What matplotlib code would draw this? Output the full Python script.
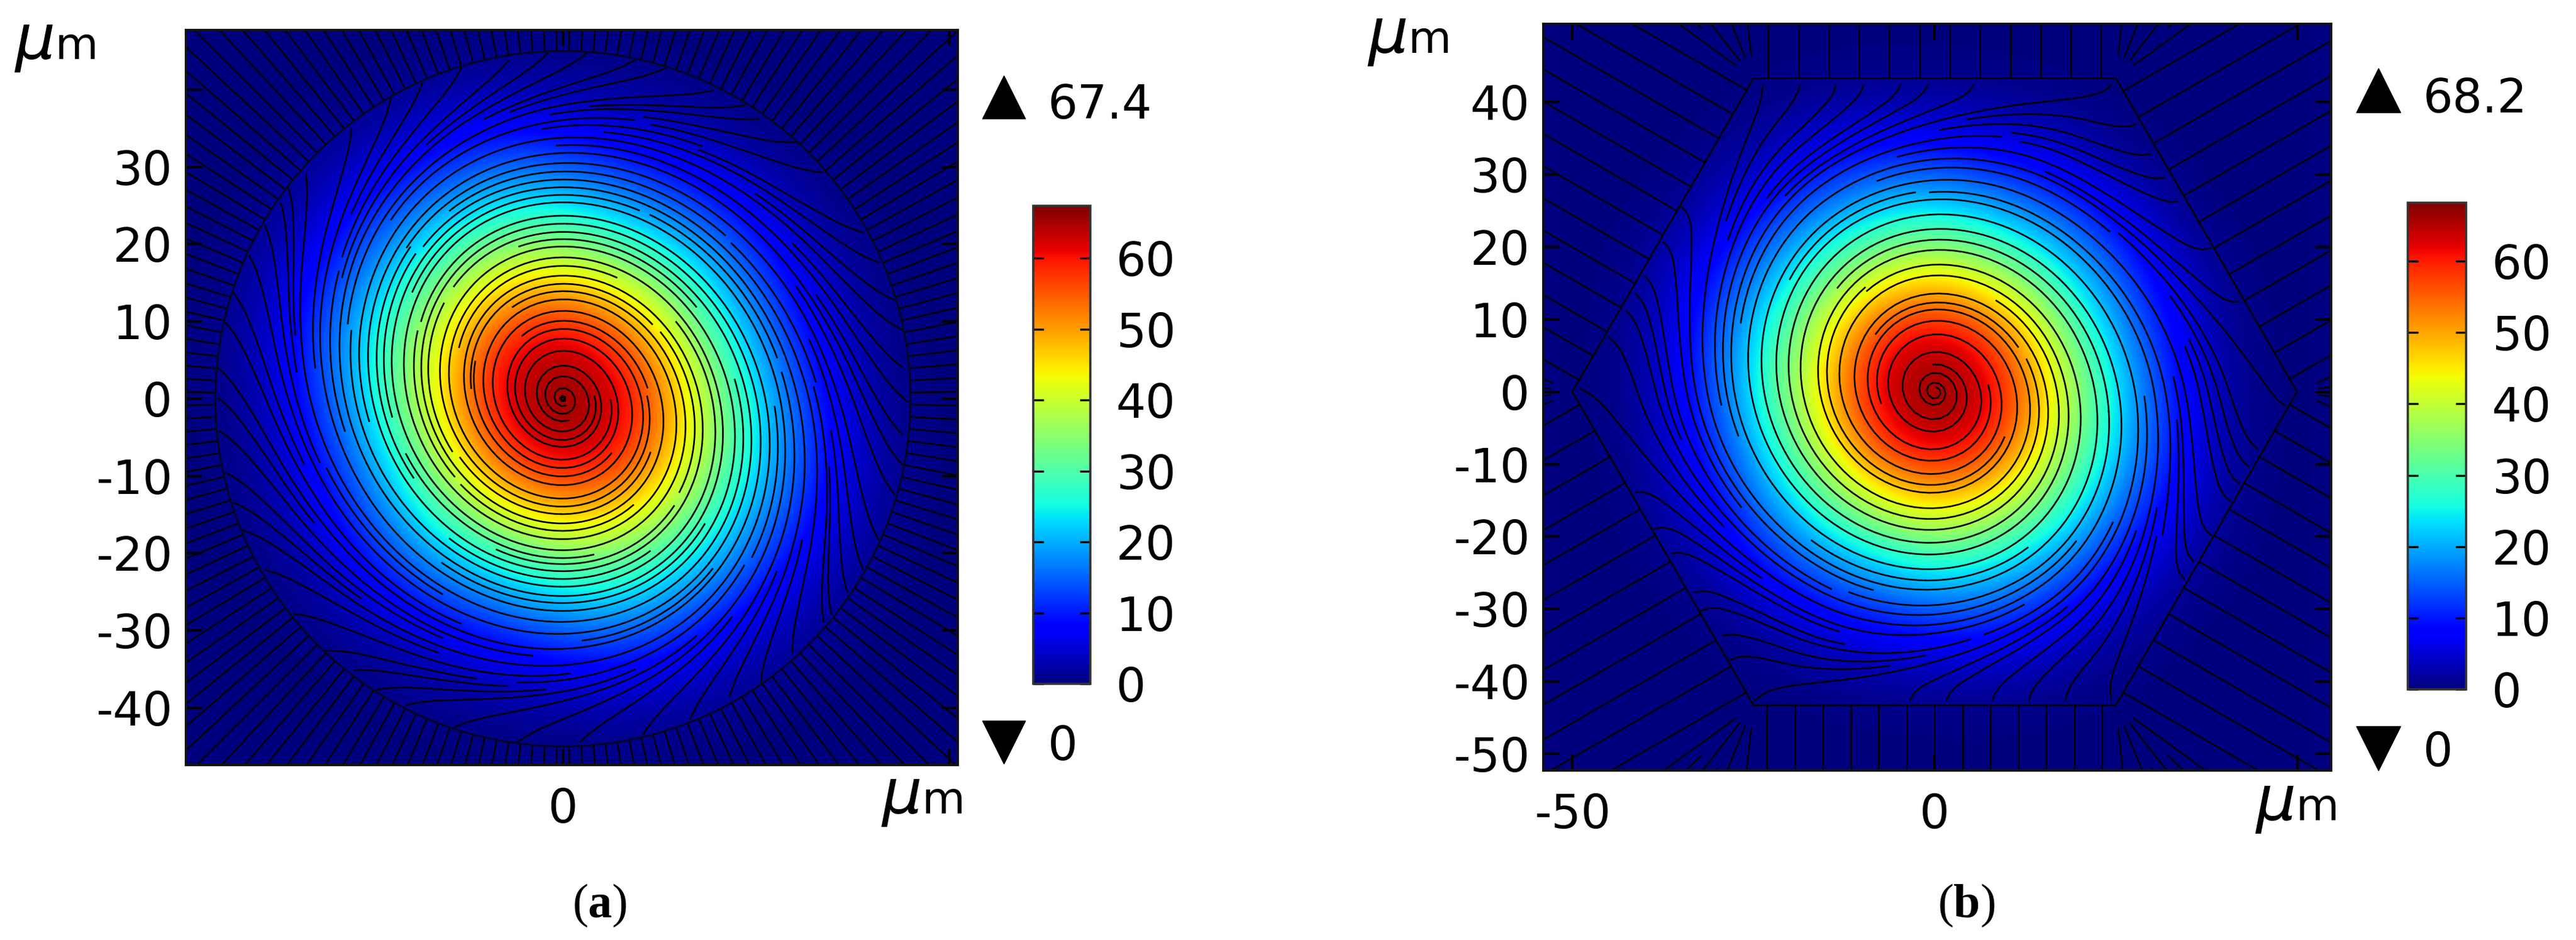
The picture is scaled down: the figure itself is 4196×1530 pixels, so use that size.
"""Two-panel temperature maps with heat-flux streamlines (circle and hexagon domains)."""

import matplotlib
matplotlib.use("Agg")
import matplotlib.pyplot as plt
import numpy as np
from matplotlib.cm import ScalarMappable
from matplotlib.collections import LineCollection
from matplotlib.colors import Normalize

plt.rcParams["axes.unicode_minus"] = False
plt.rcParams["mathtext.fontset"] = "custom"
plt.rcParams["mathtext.bf"] = "Liberation Serif:bold"
plt.rcParams["mathtext.rm"] = "Liberation Serif"

W, H = 4196, 1530

# temperature every 8 um, top row is y = +48, left column x = -48
GRID_STEP = 8
temp_a = [
    [0, 0, 0, 0, 0, .1, 0, 0, 0, 0, 0, 0, 0],
    [0, 0, .1, .3, 1.2, 2, 1.5, 1, .4, .1, 0, 0, 0],
    [0, .1, .7, 3, 8.5, 12, 11, 8, 5, 1.2, .2, 0, 0],
    [0, .3, 3, 12, 19.5, 26, 26, 20.5, 14.5, 8, 1.2, .1, 0],
    [0, 1.2, 8.5, 19.5, 32.5, 42.5, 45, 38, 27, 14.5, 5, .4, 0],
    [.1, 2, 12, 26, 42.5, 59.5, 64.5, 56.5, 38, 20.5, 8, 1, 0],
    [0, 1.5, 11, 26, 45, 64.5, 67.4, 64.5, 45, 26, 11, 1.5, 0],
    [0, 1, 8, 20.5, 38, 56.5, 64.5, 59.5, 42.5, 26, 12, 2, .1],
    [0, .4, 5, 14.5, 27, 38, 45, 42.5, 32.5, 19.5, 8.5, 1.2, 0],
    [0, .1, 1.2, 8, 14.5, 20.5, 26, 26, 19.5, 12, 3, .3, 0],
    [0, 0, .2, 1.2, 5, 8, 11, 12, 8.5, 3, .7, .1, 0],
    [0, 0, 0, .1, .4, 1, 1.5, 2, 1.2, .3, .1, 0, 0],
    [0, 0, 0, 0, 0, 0, 0, .1, 0, 0, 0, 0, 0],
]
temp_b = [
    [0, 0, 0, 0, 0, 0, 0, 0, 0, 0, 0, 0, 0],
    [0, 0, 0, .3, 1, 1.6, 1.5, 1.1, .5, .1, 0, 0, 0],
    [0, 0, .5, 2.5, 7.5, 11, 11, 9, 6, 1.4, .2, 0, 0],
    [0, .3, 2.5, 10, 18, 24.5, 26.5, 22, 16, 9, 1.4, .1, 0],
    [0, 1, 7.5, 18, 31, 41, 45.5, 39.5, 28, 16, 6, .5, 0],
    [0, 1.6, 11, 24.5, 41, 59.5, 65, 58, 39.5, 22, 9, 1.1, 0],
    [0, 1.5, 11, 26.5, 45.5, 65, 68.2, 65, 45.5, 26.5, 11, 1.5, 0],
    [0, 1.1, 9, 22, 39.5, 58, 65, 59.5, 41, 24.5, 11, 1.6, 0],
    [0, .5, 6, 16, 28, 39.5, 45.5, 41, 31, 18, 7.5, 1, 0],
    [0, .1, 1.4, 9, 16, 22, 26.5, 24.5, 18, 10, 2.5, .3, 0],
    [0, 0, .2, 1.4, 6, 9, 11, 11, 7.5, 2.5, .5, 0, 0],
    [0, 0, 0, .1, .5, 1.1, 1.5, 1.6, 1, .3, 0, 0, 0],
    [0, 0, 0, 0, 0, 0, 0, 0, 0, 0, 0, 0, 0],
]

# angle between flow line and ring (deg), read against distance from the domain boundary (um)
swirl_dist = [0, 3, 7, 11, 17, 25, 45]
swirl_angle = [50, 30, 16, 9, 6, 6, 7]

circle_radius = 45.0
hex_radius = 50.0

max_a, max_b = 67.4, 68.2
cbar_ticks = [0, 10, 20, 30, 40, 50, 60]
yticks_a = [-40, -30, -20, -10, 0, 10, 20, 30, 40]
ylabels_a = ["-40", "-30", "-20", "-10", "0", "10", "20", "30", ""]
xticks_a = [0, 50]
xlabels_a = ["0", ""]
yticks_b = [-50, -40, -30, -20, -10, 0, 10, 20, 30, 40]
ylabels_b = ["-50", "-40", "-30", "-20", "-10", "0", "10", "20", "30", "40"]
xticks_b = [-50, 0, 50]
xlabels_b = ["-50", "0", ""]


def px_axes(fig, left, top, right, bottom):
    return fig.add_axes([left / W, 1 - bottom / H, (right - left) / W, (bottom - top) / H])


def hex_vertices():
    ang = np.deg2rad(np.arange(0, 420, 60))
    return hex_radius * np.cos(ang), hex_radius * np.sin(ang)


def nearest_on_circle(x, y):
    r = np.hypot(x, y) + 1e-9
    return circle_radius * x / r, circle_radius * y / r


def nearest_on_hexagon(x, y):
    vx, vy = hex_vertices()
    best = None
    for i in range(6):
        ex, ey = vx[i + 1] - vx[i], vy[i + 1] - vy[i]
        t = np.clip(((x - vx[i]) * ex + (y - vy[i]) * ey) / (ex * ex + ey * ey), 0, 1)
        qx, qy = vx[i] + t * ex, vy[i] + t * ey
        d = np.hypot(x - qx, y - qy)
        if best is None:
            best = [d, qx, qy]
        else:
            mask = d < best[0]
            best[0] = np.where(mask, d, best[0])
            best[1] = np.where(mask, qx, best[1])
            best[2] = np.where(mask, qy, best[2])
    return best[1], best[2]


def in_circle(x, y):
    return np.hypot(x, y) < circle_radius


def in_hexagon(x, y):
    apothem = hex_radius * np.sqrt(3) / 2
    ok = np.abs(y) < apothem
    for deg in (30, 150):
        ok = ok & (np.abs(x * np.cos(np.deg2rad(deg)) + y * np.sin(np.deg2rad(deg))) < apothem)
    return ok


def boundary_normal(x, y, nearest, inside):
    qx, qy = nearest(x, y)
    dist = np.hypot(x - qx, y - qy) + 1e-9
    sign = np.where(inside, 1.0, -1.0)
    return sign * (qx - x) / dist, sign * (qy - y) / dist, dist


def swirl_field(x, y, nearest, inside, stretch, bend):
    # elliptical rings with the long axis pointing to upper left
    phi = np.deg2rad(118)
    xr = x * np.cos(phi) + y * np.sin(phi)
    yr = -x * np.sin(phi) + y * np.cos(phi)
    gx_r, gy_r = xr / stretch ** 2, yr * stretch ** 2
    gx = gx_r * np.cos(phi) - gy_r * np.sin(phi)
    gy = gx_r * np.sin(phi) + gy_r * np.cos(phi)
    g = np.hypot(gx, gy) + 1e-9
    gx, gy = gx / g, gy / g

    nx, ny, dist = boundary_normal(x, y, nearest, inside)
    alpha = np.deg2rad(np.interp(dist, swirl_dist, swirl_angle))

    # clockwise ring direction plus outward drift
    u = np.cos(alpha) * gy + np.sin(alpha) * gx
    v = -np.cos(alpha) * gx + np.sin(alpha) * gy

    # last few um turn onto the boundary normal
    if bend > 0:
        b = np.clip(1 - dist / bend, 0, 1) ** 2
        u = (1 - b) * u + b * nx
        v = (1 - b) * v + b * ny
    s = np.hypot(u, v) + 1e-9
    u, v = u / s, v / s
    return np.where(inside, u, np.nan), np.where(inside, v, np.nan)


def boundary_seeds(vx, vy, spacing, offset=0.1):
    # points along the closed outline, pushed just outside
    seeds = []
    for i in range(len(vx) - 1):
        ex, ey = vx[i + 1] - vx[i], vy[i + 1] - vy[i]
        length = np.hypot(ex, ey)
        count = max(int(round(length / spacing)), 1)
        for k in range(count):
            t = (k + 0.5) / count
            px, py = vx[i] + t * ex, vy[i] + t * ey
            scale = 1 + offset / np.hypot(px, py)
            seeds.append((px * scale, py * scale))
    return np.array(seeds)


def vertex_fan_seeds(vx, vy):
    # short fans of lines opening from each hexagon corner
    seeds = []
    for i in range(6):
        base = np.rad2deg(np.arctan2(vy[i], vx[i]))
        for k, da in enumerate(np.arange(-24, 25, 8)):
            d = 3 + 7 * (k % 2)
            a = np.deg2rad(base + da)
            seeds.append((vx[i] + d * np.cos(a), vy[i] + d * np.sin(a)))
    return np.array(seeds)


def outer_rays(ax, seeds, nearest):
    # straight lines leaving the domain, normal to its outline
    qx, qy = nearest(seeds[:, 0], seeds[:, 1])
    dx, dy = seeds[:, 0] - qx, seeds[:, 1] - qy
    d = np.hypot(dx, dy) + 1e-9
    ends = seeds + 150 * np.column_stack([dx / d, dy / d])
    segs = np.stack([seeds, ends], axis=1)
    ax.add_collection(LineCollection(segs, colors="black", linewidths=1.9))


def draw_panel(ax, temp, vmax, xlim, ylim, nearest, inside_fn, stretch, density, bend, seeds):
    half = GRID_STEP * (len(temp) / 2)
    ax.set_facecolor(plt.cm.jet(0.0))
    ax.imshow(np.array(temp), cmap="jet", vmin=0, vmax=vmax, interpolation="bicubic",
              interpolation_stage="data", extent=(-half, half, -half, half), aspect="auto")
    xs = np.linspace(xlim[0], xlim[1], 600)
    ys = np.linspace(ylim[0], ylim[1], 600)
    X, Y = np.meshgrid(xs, ys)
    inside = inside_fn(X, Y)
    U, V = swirl_field(X, Y, nearest, inside, stretch, bend)
    ax.streamplot(xs, ys, U, V, density=density, color="black", linewidth=1.9,
                  arrowstyle="-", minlength=0.2, maxlength=30.0, integration_direction="both")
    outer_rays(ax, seeds, nearest)

    ax.set_xlim(xlim)
    ax.set_ylim(ylim)
    ax.tick_params(direction="in", length=19, width=3.0, top=True, right=True, labelsize=55, pad=16,
                   color="black")
    for s in ax.spines.values():
        s.set_linewidth(3.0)
        s.set_color("#111111")


def draw_cbar(fig, box, vmax):
    cax = px_axes(fig, *box)
    cb = fig.colorbar(ScalarMappable(Normalize(0, vmax), "jet"), cax=cax)
    cb.set_ticks(cbar_ticks)
    cax.tick_params(direction="in", length=12, width=2.4, left=True, right=True, labelsize=55, pad=30)
    cb.outline.set_linewidth(2.6)
    cb.outline.set_edgecolor("#333333")


def um_label(over, x_mu, x_m, base):
    over.text(x_mu, base, "\u03bc", fontsize=74, style="italic", family="DejaVu Sans", va="baseline", ha="left")
    over.text(x_m, base, "m", fontsize=52, family="DejaVu Sans", va="baseline", ha="left")


fig = plt.figure(figsize=(W / 100, H / 100), dpi=100, facecolor="white")

ring_ang = np.deg2rad(np.linspace(0, 360, 181))
ring_x, ring_y = circle_radius * np.cos(ring_ang), circle_radius * np.sin(ring_ang)
hex_x, hex_y = hex_vertices()

ax_a = px_axes(fig, 303, 49, 1560, 1245)
draw_panel(ax_a, temp_a, max_a, (-48.8, 51.1), (-47.4, 47.7), nearest_on_circle, in_circle,
           1.06, 3.3, 0, boundary_seeds(ring_x, ring_y, 2.2))
ax_a.plot(ring_x, ring_y, color="#05051a", lw=2.0)
ax_a.set_xticks(xticks_a, xlabels_a)
ax_a.set_yticks(yticks_a, ylabels_a)
ax_a.tick_params(axis="x", pad=26)

ax_b = px_axes(fig, 2514, 39, 3797, 1254)
hex_seeds = np.vstack([boundary_seeds(hex_x, hex_y, 4.0), vertex_fan_seeds(hex_x, hex_y)])
draw_panel(ax_b, temp_b, max_b, (-54.0, 54.7), (-52.3, 50.8), nearest_on_hexagon, in_hexagon,
           1.04, 2.9, 4.0, hex_seeds)
ax_b.plot(hex_x, hex_y, color="black", lw=2.0)
ax_b.set_xticks(xticks_b, xlabels_b)
ax_b.set_yticks(yticks_b, ylabels_b)
ax_b.tick_params(axis="x", pad=26)

draw_cbar(fig, (1683, 335, 1776, 1113), max_a)
draw_cbar(fig, (3922, 330, 4017, 1122), max_b)

# everything placed by pixel: unit labels, max/min markers, captions
over = fig.add_axes([0, 0, 1, 1], facecolor="none")
over.set_xlim(0, W)
over.set_ylim(H, 0)
over.axis("off")

um_label(over, 24, 90, 96)
um_label(over, 1436, 1502, 1324)
um_label(over, 2228, 2294, 86)
um_label(over, 3674, 3740, 1335)

over.plot([1635], [158], marker="^", ms=50, color="black", ls="none")
over.plot([1635], [1208], marker="v", ms=50, color="black", ls="none")
over.plot([3874], [147], marker="^", ms=52, color="black", ls="none")
over.plot([3874], [1218], marker="v", ms=52, color="black", ls="none")
for x, y, s in [(1707, 164, "67.4"), (1707, 1208, "0"), (3947, 154, "68.2"), (3947, 1218, "0")]:
    over.text(x, y, s, fontsize=55, va="center_baseline", ha="left")

over.text(977, 1474, r"($\mathbf{a}$)", fontsize=56, family="Liberation Serif", ha="center", va="center")
over.text(3203, 1474, r"($\mathbf{b}$)", fontsize=56, family="Liberation Serif", ha="center", va="center")

fig.savefig("out.png", dpi=100)
